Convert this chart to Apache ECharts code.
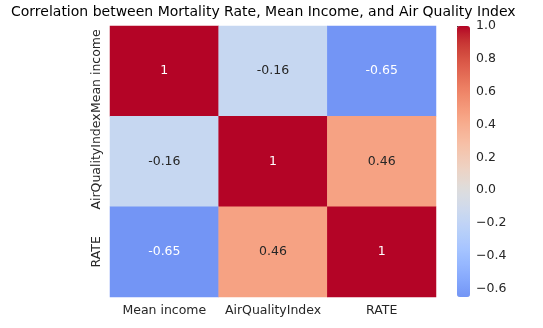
<!DOCTYPE html>
<html>
<head>
<meta charset="UTF-8">
<title>Correlation heatmap</title>
<script src="https://cdn.jsdelivr.net/npm/echarts@6/dist/echarts.min.js"></script>
<style>
  html, body { margin: 0; padding: 0; background: #fff; }
  #chart { width: 543px; height: 328px; }
</style>
</head>
<body>
<div id="chart"></div>
<script>
// variables of the correlation matrix
var labels = ['Mean income', 'AirQualityIndex', 'RATE'];
// rows top to bottom, columns left to right
var corr = [
  [1, -0.16, -0.65],
  [-0.16, 1, 0.46],
  [-0.65, 0.46, 1]
];
var colorbarTicks = [-0.6, -0.4, -0.2, 0.0, 0.2, 0.4, 0.6, 0.8, 1.0];
var vmin = -0.65, vmax = 1;

// coolwarm colormap (33 control points)
var coolwarm = [
  [59,76,192],[68,90,204],[77,104,215],[87,117,225],[98,130,234],[108,142,241],
  [119,154,247],[130,165,251],[141,176,254],[152,185,255],[163,194,255],[174,201,253],
  [184,208,249],[194,213,244],[204,217,238],[213,219,230],[221,221,221],[229,216,209],
  [236,211,197],[241,204,185],[245,196,173],[247,187,160],[247,177,148],[247,166,135],
  [244,154,123],[241,141,111],[236,127,99],[229,112,88],[222,96,77],[213,80,66],
  [203,62,56],[192,40,47],[180,4,38]
];
function cmap(t) {
  t = Math.max(0, Math.min(1, t));
  var p = t * (coolwarm.length - 1);
  var i = Math.min(Math.floor(p), coolwarm.length - 2);
  var f = p - i;
  var a = coolwarm[i], b = coolwarm[i + 1];
  return [0, 1, 2].map(function(k) { return a[k] + (b[k] - a[k]) * f; });
}
// centred at 0: value v sits at (v+1)/2 of the map
function colorOf(v) { return cmap((v + 1) / 2); }
function toHex(c) {
  return '#' + c.map(function(x) { var h = Math.round(x).toString(16); return h.length < 2 ? '0' + h : h; }).join('');
}
function luminance(c) {
  var l = c.map(function(x) { x = x / 255; return x <= 0.03928 ? x / 12.92 : Math.pow((x + 0.055) / 1.055, 2.4); });
  return 0.2126 * l[0] + 0.7152 * l[1] + 0.0722 * l[2];
}

var ramp = [];
for (var s = 0; s <= 40; s++) {
  ramp.push(toHex(colorOf(vmin + (vmax - vmin) * s / 40)));
}

var cells = [];
for (var r = 0; r < corr.length; r++) {
  for (var c = 0; c < corr[r].length; c++) {
    cells.push([c, r, corr[r][c]]);
  }
}

var font = 'DejaVu Sans';
var chart = echarts.init(document.getElementById('chart'));
chart.setOption({
  animation: false,
  title: {
    text: 'Correlation between Mortality Rate, Mean Income, and Air Quality Index',
    left: 11, top: 5, padding: 0,
    textStyle: { fontFamily: font, fontSize: 14, fontWeight: 'normal', color: '#000' }
  },
  grid: [
    { left: 110, top: 26, width: 326, height: 271 },
    { left: 457, top: 26, width: 13, height: 271 }
  ],
  xAxis: [{
    type: 'category', data: labels, gridIndex: 0,
    axisLine: { show: false },
    axisTick: { alignWithLabel: true, length: 4, lineStyle: { color: '#333' } },
    axisLabel: { interval: 0, fontFamily: font, fontSize: 12.5, color: '#262626', margin: 7 },
    splitLine: { show: false }
  }, {
    type: 'value', gridIndex: 1, show: false, min: 0, max: 1
  }],
  yAxis: [{
    type: 'category', data: labels, gridIndex: 0, inverse: true,
    axisLine: { show: false },
    axisTick: { alignWithLabel: true, length: 4, lineStyle: { color: '#333' } },
    axisLabel: { interval: 0, fontFamily: font, fontSize: 12.5, color: '#262626', rotate: 90, margin: 7 },
    splitLine: { show: false }
  }, {
    type: 'value', gridIndex: 1, position: 'right', min: vmin, max: vmax,
    axisLine: { show: false },
    splitLine: { show: false },
    axisTick: { show: true, length: 4, customValues: colorbarTicks, lineStyle: { color: '#333' } },
    axisLabel: {
      fontFamily: font, fontSize: 12.5, color: '#262626', margin: 6,
      customValues: colorbarTicks,
      formatter: function(v) { return v.toFixed(1).replace('-', '\u2212'); }
    }
  }],
  visualMap: {
    type: 'continuous', min: vmin, max: vmax, seriesIndex: 0,
    calculable: false, showLabel: false, text: null,
    left: 457, top: 26, padding: 0,
    itemWidth: 13, itemHeight: 271,
    inRange: { color: ramp }
  },
  series: [{
    type: 'heatmap', xAxisIndex: 0, yAxisIndex: 0,
    data: cells,
    label: {
      show: true,
      // white text on dark cells, dark text on light ones
      formatter: function(p) {
        var v = p.value[2];
        var key = luminance(colorOf(v)) > 0.408 ? 'd' : 'w';
        return '{' + key + '|' + v + '}';
      },
      rich: {
        d: { fontFamily: font, fontSize: 12.5, color: '#262626' },
        w: { fontFamily: font, fontSize: 12.5, color: '#ffffff' }
      }
    },
    emphasis: { disabled: true }
  }]
});
</script>
</body>
</html>
